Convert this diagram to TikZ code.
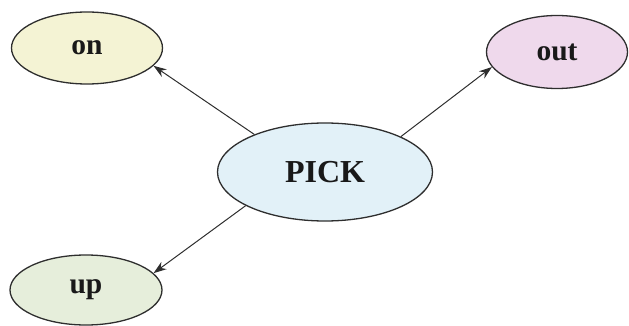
\documentclass[tikz,border=0pt]{standalone}
\usepackage{fontspec}
\setmainfont{Liberation Serif}
\usetikzlibrary{arrows.meta,shapes.geometric}
\definecolor{onfill}{HTML}{F4F3D4}
\definecolor{outfill}{HTML}{EFD9EC}
\definecolor{pickfill}{HTML}{E2F1F8}
\definecolor{upfill}{HTML}{E6EEDB}
\definecolor{edge}{HTML}{2E2E2E}
\begin{document}
\begin{tikzpicture}[x=1pt,y=-1pt,
  bubble/.style={ellipse, draw=edge, line width=1.3pt, inner sep=0pt,
    font=\fontsize{29.5}{31}\selectfont\bfseries, text=black!90},
  link/.style={draw=edge, line width=1pt, -{Stealth[length=13pt,width=9pt]}}]
\useasboundingbox (0,0) rectangle (629,326);
\node[bubble, fill=onfill, minimum width=151pt, minimum height=72pt] (on) at (87,48) {on};
\node[bubble, fill=outfill, minimum width=141pt, minimum height=73pt] (out) at (557,52) {out};
\node[bubble, fill=pickfill, minimum width=215pt, minimum height=98pt,
  font=\fontsize{32}{34}\selectfont\bfseries] (pick) at (325,172) {PICK};
\node[bubble, fill=upfill, minimum width=152pt, minimum height=70pt] (up) at (86,290) {up};
\draw[link] (pick.152) -- (on.-15);
\draw[link] (pick.25.6) -- (out.193);
\draw[link] (pick.203.7) -- (up.14.6);
\end{tikzpicture}
\end{document}
